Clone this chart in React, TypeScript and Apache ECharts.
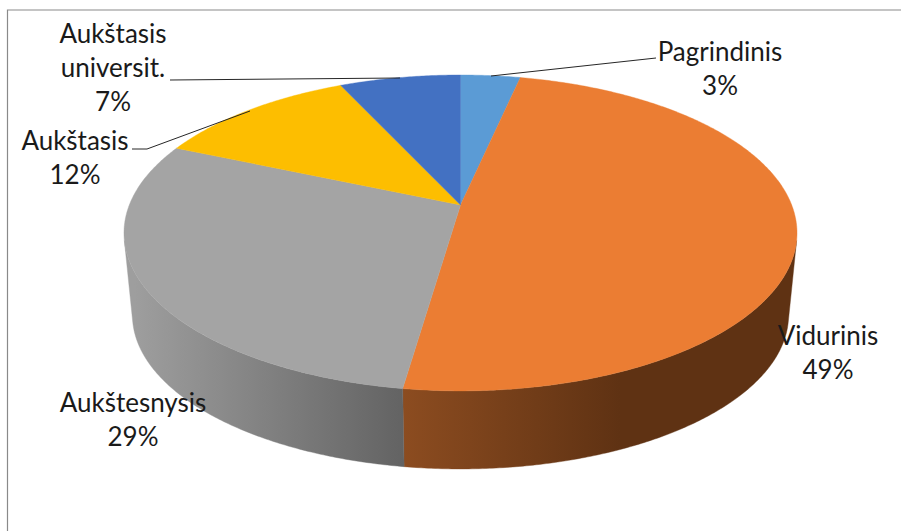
import React, { useEffect, useRef } from "react";
import * as echarts from "echarts";

const categories = ["Pagrindinis", "Vidurinis", "Aukštesnysis", "Aukštasis", "Aukštasis\nuniversit."];
const shares = [3.4, 48.9, 29.2, 11.6, 6.9];
const colors = ["#5B9BD5", "#EB7D33", "#A4A4A4", "#FDBE00", "#4371C2"];

// Layout of the tilted disc
const CX = 460.5;
const APEX_Y = 205;
const PERSPECTIVE = -0.177;
const DEPTH_SCALE = 153;
const WIDTH_SCALE = 331.2;
const RING_CY = 233;
const LOWER_CY = 315;
const LOWER_SCALE = 0.975;
const FRONT_START = 102.9;
const FRONT_END = 257.1;

const labelCenters = [
  [720, 51],
  [828, 335],
  [133, 402],
  [75, 140],
  [113, 33],
];
const leaderLines: number[][][] = [
  [[491, 76], [656, 58]],
  [],
  [],
  [[132, 149], [147, 149], [250, 111]],
  [[170, 80], [400, 78]],
];

const wallGradients: Record<number, any> = {
  1: {
    type: "linear", x: 403, y: 0, x2: 620, y2: 0, global: true,
    colorStops: [{ offset: 0, color: "#8C4C20" }, { offset: 1, color: "#5F3213" }],
  },
  2: {
    type: "linear", x: 134, y: 0, x2: 403, y2: 0, global: true,
    colorStops: [{ offset: 0, color: "#9E9E9E" }, { offset: 1, color: "#636363" }],
  },
};

function rim(deg: number): number[] {
  const a = (deg * Math.PI) / 180;
  const u = Math.sin(a);
  const v = -Math.cos(a);
  const w = 1 + PERSPECTIVE * v;
  return [CX + (WIDTH_SCALE * u) / w, APEX_Y + (DEPTH_SCALE * v) / w];
}

function lower(p: number[]): number[] {
  return [CX + LOWER_SCALE * (p[0] - CX), LOWER_CY + LOWER_SCALE * (p[1] - RING_CY)];
}

function arc(from: number, to: number): number[][] {
  const pts: number[][] = [];
  const n = Math.max(2, Math.ceil((to - from) * 2));
  for (let i = 0; i <= n; i++) pts.push(rim(from + ((to - from) * i) / n));
  return pts;
}

const total = shares.reduce((a, b) => a + b, 0);

function sliceAngles(i: number): [number, number] {
  let start = 0;
  for (let k = 0; k < i; k++) start += shares[k];
  return [(start / total) * 360, ((start + shares[i]) / total) * 360];
}

export default function App() {
  const ref = useRef<HTMLDivElement>(null);
  useEffect(() => {
    const chart = echarts.init(ref.current!, null, { renderer: "svg" });
    chart.setOption({
      animation: false,
      backgroundColor: "#fff",
      graphic: [
        {
          type: "polyline",
          z: 0,
          shape: { points: [[7.5, 531], [7.5, 10], [901, 10]] },
          style: { stroke: "#8A8A8A", lineWidth: 1.2, fill: "none" },
        },
      ],
      series: [
        {
          type: "custom",
          coordinateSystem: "none",
          z: 2,
          data: shares.map((v) => [v]),
          renderItem: (params: any) => {
            const i = params.dataIndex;
            const [a0, a1] = sliceAngles(i);
            const children: any[] = [];
            const f0 = Math.max(a0, FRONT_START);
            const f1 = Math.min(a1, FRONT_END);
            if (f1 > f0) {
              const top = arc(f0, f1);
              const bottom = top.map(lower).reverse();
              const fill = wallGradients[i] ?? colors[i];
              children.push({
                type: "polygon",
                shape: { points: [...top, ...bottom] },
                style: { fill, stroke: fill, lineWidth: 0.4 },
              });
            }
            children.push({
              type: "polygon",
              shape: { points: [[CX, APEX_Y], ...arc(a0, a1)] },
              style: { fill: colors[i], stroke: colors[i], lineWidth: 0.4 },
            });
            return { type: "group", children };
          },
        },
        {
          type: "custom",
          coordinateSystem: "none",
          z: 5,
          data: shares.map((v) => [v]),
          renderItem: (params: any, api: any) => {
            const i = params.dataIndex;
            const children: any[] = [];
            if (leaderLines[i].length) {
              children.push({
                type: "polyline",
                shape: { points: leaderLines[i] },
                style: { stroke: "#262626", lineWidth: 1, fill: "none" },
              });
            }
            const [x, y] = labelCenters[i];
            children.push({
              type: "text",
              x,
              y: y - 17,
              style: {
                text: `${categories[i]}\n${Math.round(api.value(0))}%`,
                fill: "#1A1A1A",
                font: '26px Lato, "Noto Sans", sans-serif',
                lineHeight: 34,
                align: "center",
                verticalAlign: "top",
              },
            });
            return { type: "group", children };
          },
        },
      ],
    });
    return () => chart.dispose();
  }, []);
  return (
    <div
      ref={ref}
      style={{ position: "fixed", left: 0, top: 0, width: 901, height: 531 }}
    />
  );
}
